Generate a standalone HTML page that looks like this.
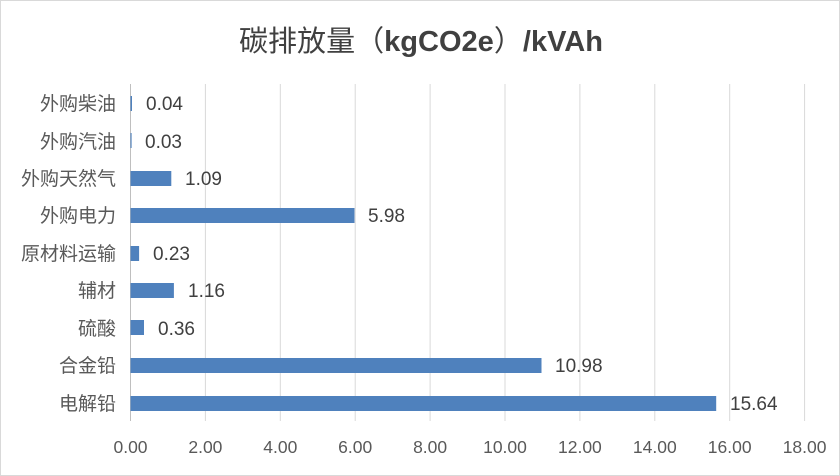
<!DOCTYPE html>
<html><head><meta charset="utf-8"><style>
html,body{margin:0;padding:0;background:#fff}
svg{display:block}
text{font-family:"Liberation Sans","Noto Sans CJK SC",sans-serif}
</style></head><body>
<svg width="840" height="476" viewBox="0 0 840 476" xmlns="http://www.w3.org/2000/svg">
<rect x="0.5" y="0.5" width="839" height="475" fill="#fff" stroke="#d9d9d9"/>
<text x="421" y="51" text-anchor="middle" font-size="29" fill="#404040" textLength="364" lengthAdjust="spacingAndGlyphs">碳排放量（<tspan font-weight="bold">kgCO2e</tspan>）<tspan font-weight="bold">/kVAh</tspan></text>
<g stroke="#d9d9d9" stroke-width="1">
<line x1="205.4" y1="84" x2="205.4" y2="421"/><line x1="280.3" y1="84" x2="280.3" y2="421"/>
<line x1="355.2" y1="84" x2="355.2" y2="421"/><line x1="430.1" y1="84" x2="430.1" y2="421"/>
<line x1="505" y1="84" x2="505" y2="421"/><line x1="579.9" y1="84" x2="579.9" y2="421"/>
<line x1="654.8" y1="84" x2="654.8" y2="421"/><line x1="729.7" y1="84" x2="729.7" y2="421"/>
<line x1="804.6" y1="84" x2="804.6" y2="421"/>
</g>
<line x1="130.5" y1="84" x2="130.5" y2="421" stroke="#bfbfbf"/>
<g fill="#4f81bd">
<rect x="130.5" y="96" width="1.5" height="15"/>
<rect x="130.5" y="133" width="1.1" height="15"/>
<rect x="130.5" y="171" width="40.8" height="15"/>
<rect x="130.5" y="208" width="224" height="15"/>
<rect x="130.5" y="246" width="8.6" height="15"/>
<rect x="130.5" y="283" width="43.4" height="15"/>
<rect x="130.5" y="320" width="13.5" height="15"/>
<rect x="130.5" y="358" width="411" height="15"/>
<rect x="130.5" y="396" width="585.7" height="15"/>
</g>
<g font-size="19" fill="#595959" text-anchor="end">
<text x="116" y="110">外购柴油</text>
<text x="116" y="148">外购汽油</text>
<text x="116" y="185">外购天然气</text>
<text x="116" y="222">外购电力</text>
<text x="116" y="260">原材料运输</text>
<text x="116" y="297">辅材</text>
<text x="116" y="335">硫酸</text>
<text x="116" y="372">合金铅</text>
<text x="116" y="410">电解铅</text>
</g>
<g font-size="19" fill="#404040">
<text x="146" y="110">0.04</text>
<text x="145" y="148">0.03</text>
<text x="185" y="185">1.09</text>
<text x="368" y="222">5.98</text>
<text x="153" y="260">0.23</text>
<text x="188" y="297">1.16</text>
<text x="158" y="335">0.36</text>
<text x="555" y="372">10.98</text>
<text x="730" y="410">15.64</text>
</g>
<g font-size="17.5" fill="#595959" text-anchor="middle">
<text x="130.5" y="453">0.00</text><text x="205.4" y="453">2.00</text><text x="280.3" y="453">4.00</text>
<text x="355.2" y="453">6.00</text><text x="430.1" y="453">8.00</text><text x="505" y="453">10.00</text>
<text x="579.9" y="453">12.00</text><text x="654.8" y="453">14.00</text><text x="729.7" y="453">16.00</text>
<text x="804.6" y="453">18.00</text>
</g>
</svg>
</body></html>
